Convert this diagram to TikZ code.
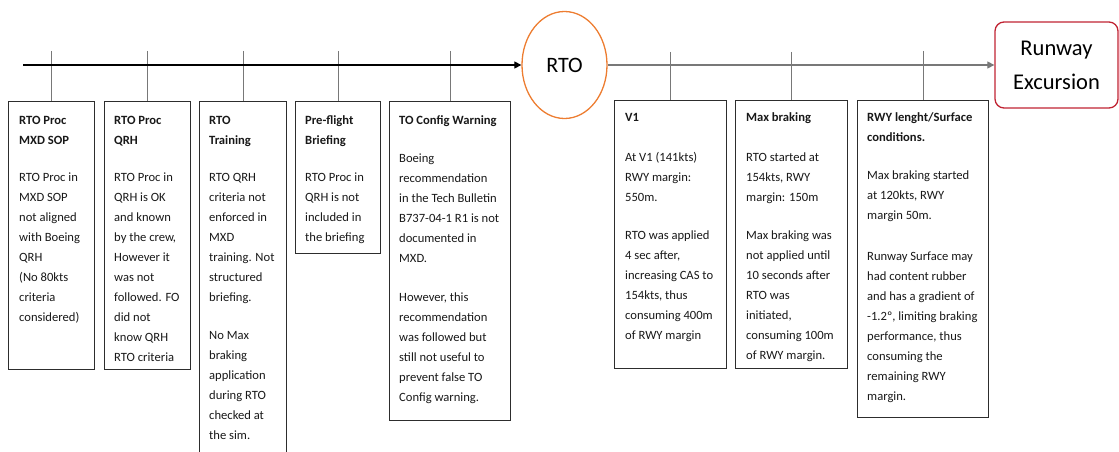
\documentclass[tikz,border=0pt]{standalone}
\usepackage{fontspec}
\setmainfont{Carlito}
\usetikzlibrary{arrows.meta,shapes.geometric}
\definecolor{boxline}{RGB}{45,45,45}
\definecolor{bodytext}{RGB}{25,25,25}
\definecolor{rtoorange}{RGB}{237,125,49}
\definecolor{excred}{RGB}{192,35,50}
\definecolor{tickgray}{RGB}{120,120,120}
\newcommand\sk{\rule{0pt}{10pt}}
\tikzset{
  boxst/.style={draw=boxline, line width=1.3pt, fill=white, rectangle, inner sep=0pt, anchor=north west},
  txt/.style={anchor=north west, inner sep=0pt, align=left, text=bodytext, font=\fontsize{12.6}{20}\selectfont},
  tickln/.style={draw=tickgray, line width=1pt},
  mainln/.style={line width=1.1pt, -{Triangle[length=7pt,width=7pt]}},
}
\begin{document}
\begin{tikzpicture}[x=1pt,y=-1pt]
\useasboundingbox (0,0) rectangle (1119,452);
\clip (0,0) rectangle (1119,452);
% event nodes
\node[draw=rtoorange, line width=1.3pt, ellipse, minimum width=85pt, minimum height=107pt, inner sep=0pt, font=\fontsize{22}{26}\selectfont] (rto) at (564.5,65) {RTO};
\node[draw=excred, line width=1.3pt, rounded corners=9pt, minimum width=123pt, minimum height=86pt, inner sep=0pt, align=center, font=\fontsize{22.5}{34}\selectfont] (exc) at (1056.5,65) {Runway\\Excursion};
\coordinate (start) at (23,65);
% boxes
\node[boxst, minimum width=86pt, minimum height=268pt] (b1) at (8,101) {};
\node[boxst, minimum width=86pt, minimum height=268pt] (b2) at (104,101) {};
\node[boxst, minimum width=87pt, minimum height=370pt] (b3) at (199,101) {};
\node[boxst, minimum width=85pt, minimum height=152pt] (b4) at (295,101) {};
\node[boxst, minimum width=121pt, minimum height=319pt] (b5) at (389,101) {};
\node[boxst, minimum width=112pt, minimum height=268pt] (b6) at (614,100) {};
\node[boxst, minimum width=112pt, minimum height=268pt] (b7) at (735,100) {};
\node[boxst, minimum width=131pt, minimum height=317pt] (b8) at (857,100) {};
% tick tops
\coordinate (t1) at (b1.north |- 0,51);
\coordinate (t2) at (b2.north |- 0,51);
\coordinate (t3) at (b3.north |- 0,51);
\coordinate (t4) at (b4.north |- 0,51);
\coordinate (t5) at (b5.north |- 0,51);
\coordinate (t6) at (b6.north |- 0,52);
\coordinate (t7) at (b7.north |- 0,52);
\coordinate (t8) at (b8.north |- 0,51);
\foreach \i in {1,...,8} {\draw[tickln] (t\i) -- (b\i.north);}
% main line
\draw[mainln, draw=black] (start) -- (rto);
\draw[mainln, draw=tickgray] (rto) -- (exc);
% texts
\node[txt] (x1) at (19,114) {\sk\textbf{RTO Proc}\\\textbf{MXD SOP}\\[17pt]RTO Proc in\\MXD SOP\\not aligned\\with Boeing\\QRH\\(No 80kts\\criteria\\considered)};
\node[txt] (x2) at (114,114) {\sk\textbf{RTO Proc}\\\textbf{QRH}\\[17pt]RTO Proc in\\QRH is OK\\and known\\by the crew,\\However it\\was not\\followed. FO\\did not\\know QRH\\RTO criteria};
\node[txt] (x3) at (209,114) {\sk\textbf{RTO}\\\textbf{Training}\\[17pt]RTO QRH\\criteria not\\enforced in\\MXD\\training. Not\\structured\\briefing.\\[18pt]No Max\\braking\\application\\during RTO\\checked at\\the sim.};
\node[txt] (x4) at (305,114) {\sk\textbf{Pre-flight}\\\textbf{Briefing}\\[17pt]RTO Proc in\\QRH is not\\included in\\the briefing};
\node[txt] (x5) at (399,114) {\sk\textbf{TO Config Warning}\\[18pt]Boeing\\recommendation\\in the Tech Bulletin\\B737-04-1 R1 is not\\documented in\\MXD.\\[19pt]However, this\\recommendation\\was followed but\\still not useful to\\prevent false TO\\Config warning.};
\node[txt] (x6) at (625,111) {\sk\textbf{V1}\\[20pt]At V1 (141kts)\\RWY margin:\\550m.\\[18pt]RTO was applied\\4 sec after,\\increasing CAS to\\154kts, thus\\consuming 400m\\of RWY margin};
\node[txt] (x7) at (746,111) {\sk\textbf{Max braking}\\[20pt]RTO started at\\154kts, RWY\\margin: 150m\\[18pt]Max braking was\\not applied until\\10 seconds after\\RTO was\\initiated,\\consuming 100m\\of RWY margin.};
\node[txt] (x8) at (867,111) {\sk\textbf{RWY lenght/Surface}\\\textbf{conditions.}\\[18pt]Max braking started\\at 120kts, RWY\\margin 50m.\\[21pt]Runway Surface may\\had content rubber\\and has a gradient of\\-1.2º, limiting braking\\performance, thus\\consuming the\\remaining RWY\\margin.};
\end{tikzpicture}
\end{document}
